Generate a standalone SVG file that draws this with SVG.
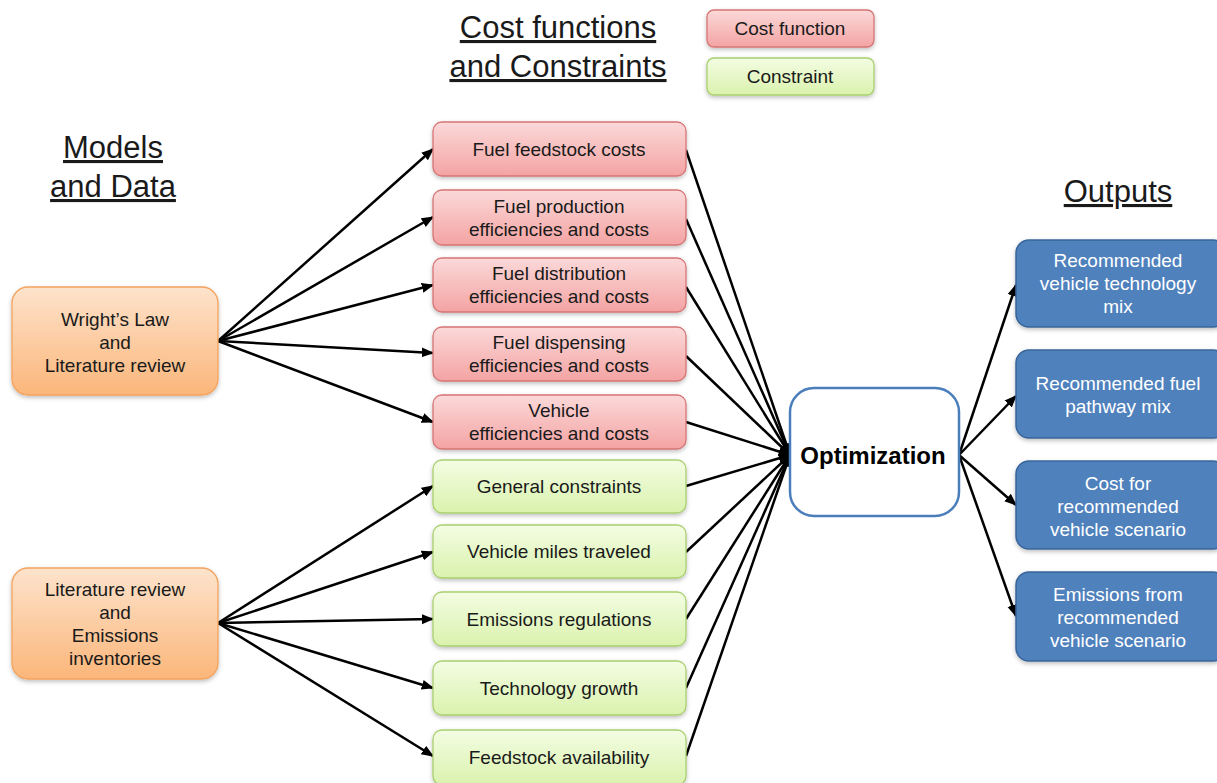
<svg xmlns="http://www.w3.org/2000/svg" width="1217" height="783" viewBox="0 0 1217 783">
<defs>
<linearGradient id="gr" x1="0" y1="0" x2="0" y2="1"><stop offset="0" stop-color="#fbd9d9"/><stop offset="1" stop-color="#f4a3a3"/></linearGradient>
<linearGradient id="gg" x1="0" y1="0" x2="0" y2="1"><stop offset="0" stop-color="#f3fde3"/><stop offset="1" stop-color="#daf2ad"/></linearGradient>
<linearGradient id="go" x1="0" y1="0" x2="0" y2="1"><stop offset="0" stop-color="#fde3cc"/><stop offset="1" stop-color="#fbb67a"/></linearGradient>
<filter id="sh" x="-10%" y="-10%" width="120%" height="130%"><feDropShadow dx="0" dy="2" stdDeviation="2" flood-color="#000" flood-opacity="0.25"/></filter>
<marker id="ah" viewBox="0 0 10 10" refX="9" refY="5" markerWidth="5" markerHeight="5" orient="auto" markerUnits="strokeWidth"><path d="M0,1 L10,5 L0,9 Z" fill="#000"/></marker>
<style>
text{font-family:"Liberation Sans",Arial,sans-serif;fill:#1a1a1a;text-anchor:middle}
.t{font-size:19px}
.h{font-size:31px;text-decoration:underline}
.w{fill:#fff}
.red{fill:url(#gr);stroke:#d67474;stroke-width:1.3;filter:url(#sh)}
.grn{fill:url(#gg);stroke:#a9cf6f;stroke-width:1.3;filter:url(#sh)}
.org{fill:url(#go);stroke:#f3a35e;stroke-width:1.3;filter:url(#sh)}
.blu{fill:#4f81bd;stroke:#38659a;stroke-width:1.5;filter:url(#sh)}
.c line{stroke:#000;stroke-width:2.5;marker-end:url(#ah)}
</style>
</defs>
<rect width="1217" height="783" fill="#fff"/>
<g id="titles">
<text class="h" x="558" y="38">Cost functions</text>
<text class="h" x="558" y="77">and Constraints</text>
<text class="h" x="113" y="158">Models</text>
<text class="h" x="113" y="197">and Data</text>
<text class="h" x="1118" y="202">Outputs</text>
</g>
<g id="legend-cost"><rect class="red" x="707" y="10" width="167" height="37" rx="7"/><text class="t" x="790" y="35">Cost function</text></g>
<g id="legend-constraint"><rect class="grn" x="707" y="58" width="167" height="37" rx="7"/><text class="t" x="790" y="83">Constraint</text></g>
<g id="connectors" class="c">
<line x1="218" y1="341" x2="433" y2="149"/>
<line x1="218" y1="341" x2="433" y2="217"/>
<line x1="218" y1="341" x2="433" y2="285"/>
<line x1="218" y1="341" x2="433" y2="353"/>
<line x1="218" y1="341" x2="433" y2="422"/>
<line x1="218" y1="623" x2="433" y2="486"/>
<line x1="218" y1="623" x2="433" y2="552"/>
<line x1="218" y1="623" x2="433" y2="619"/>
<line x1="218" y1="623" x2="433" y2="688"/>
<line x1="218" y1="623" x2="433" y2="756"/>
<line x1="686" y1="150" x2="790" y2="455"/>
<line x1="686" y1="219" x2="790" y2="455"/>
<line x1="686" y1="287" x2="790" y2="455"/>
<line x1="686" y1="356" x2="790" y2="455"/>
<line x1="686" y1="422" x2="790" y2="455"/>
<line x1="686" y1="486" x2="790" y2="455"/>
<line x1="686" y1="552" x2="790" y2="455"/>
<line x1="686" y1="619" x2="790" y2="455"/>
<line x1="686" y1="688" x2="790" y2="455"/>
<line x1="686" y1="756" x2="790" y2="455"/>
<line x1="959" y1="455" x2="1016" y2="285"/>
<line x1="959" y1="455" x2="1016" y2="396"/>
<line x1="959" y1="455" x2="1016" y2="505"/>
<line x1="959" y1="455" x2="1016" y2="616"/>
</g>
<g id="wright"><rect class="org" x="12" y="287" width="206" height="108" rx="16"/><text class="t" x="115" y="326">Wright’s Law</text><text class="t" x="115" y="349">and</text><text class="t" x="115" y="372">Literature review</text></g>
<g id="litrev"><rect class="org" x="12" y="568" width="206" height="111" rx="16"/><text class="t" x="115" y="596">Literature review</text><text class="t" x="115" y="619">and</text><text class="t" x="115" y="642">Emissions</text><text class="t" x="115" y="665">inventories</text></g>
<g id="n1"><rect class="red" x="433" y="122" width="253" height="54" rx="9"/><text class="t" x="559" y="156">Fuel feedstock costs</text></g>
<g id="n2"><rect class="red" x="433" y="190" width="253" height="55" rx="9"/><text class="t" x="559" y="213">Fuel production</text><text class="t" x="559" y="236">efficiencies and costs</text></g>
<g id="n3"><rect class="red" x="433" y="258" width="253" height="54" rx="9"/><text class="t" x="559" y="280">Fuel distribution</text><text class="t" x="559" y="303">efficiencies and costs</text></g>
<g id="n4"><rect class="red" x="433" y="327" width="253" height="54" rx="9"/><text class="t" x="559" y="349">Fuel dispensing</text><text class="t" x="559" y="372">efficiencies and costs</text></g>
<g id="n5"><rect class="red" x="433" y="395" width="253" height="54" rx="9"/><text class="t" x="559" y="417">Vehicle</text><text class="t" x="559" y="440">efficiencies and costs</text></g>
<g id="n6"><rect class="grn" x="433" y="460" width="253" height="53" rx="9"/><text class="t" x="559" y="493">General constraints</text></g>
<g id="n7"><rect class="grn" x="433" y="525" width="253" height="53" rx="9"/><text class="t" x="559" y="558">Vehicle miles traveled</text></g>
<g id="n8"><rect class="grn" x="433" y="592" width="253" height="54" rx="9"/><text class="t" x="559" y="626">Emissions regulations</text></g>
<g id="n9"><rect class="grn" x="433" y="661" width="253" height="54" rx="9"/><text class="t" x="559" y="695">Technology growth</text></g>
<g id="n10"><rect class="grn" x="433" y="730" width="253" height="55" rx="9"/><text class="t" x="559" y="764">Feedstock availability</text></g>
<g id="opt"><rect x="790" y="388" width="169" height="128" rx="24" fill="#fff" stroke="#4a7ebb" stroke-width="2.5"/><text x="873" y="464" style="font-size:24px;font-weight:bold;fill:#000">Optimization</text></g>
<g id="o1"><rect class="blu" x="1016" y="240" width="210" height="87" rx="13"/><text class="t w" x="1118" y="267">Recommended</text><text class="t w" x="1118" y="290">vehicle technology</text><text class="t w" x="1118" y="313">mix</text></g>
<g id="o2"><rect class="blu" x="1016" y="350" width="210" height="88" rx="13"/><text class="t w" x="1118" y="390">Recommended fuel</text><text class="t w" x="1118" y="413">pathway mix</text></g>
<g id="o3"><rect class="blu" x="1016" y="461" width="210" height="88" rx="13"/><text class="t w" x="1118" y="490">Cost for</text><text class="t w" x="1118" y="513">recommended</text><text class="t w" x="1118" y="536">vehicle scenario</text></g>
<g id="o4"><rect class="blu" x="1016" y="572" width="210" height="89" rx="13"/><text class="t w" x="1118" y="601">Emissions from</text><text class="t w" x="1118" y="624">recommended</text><text class="t w" x="1118" y="647">vehicle scenario</text></g>
</svg>
